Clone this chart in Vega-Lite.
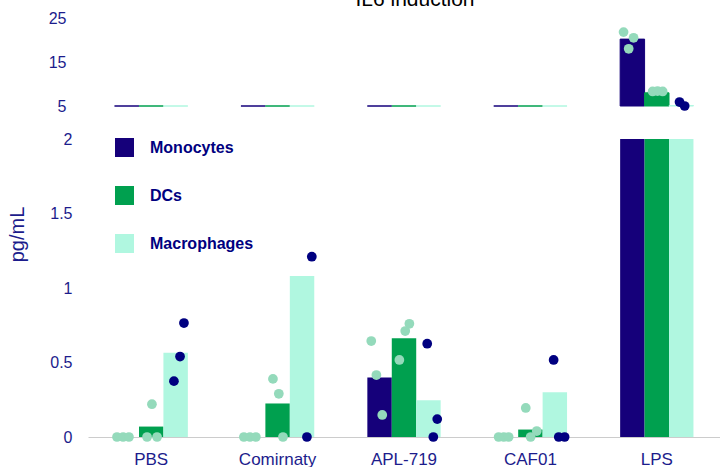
{
  "$schema": "https://vega.github.io/schema/vega-lite/v6.json",
  "autosize": {"type": "pad"},
  "padding": {"left": 7, "top": -11, "right": 0, "bottom": 0},
  "title": {
    "text": "IL6 induction",
    "fontSize": 21,
    "fontWeight": "normal",
    "font": "Liberation Sans",
    "color": "#000000",
    "anchor": "middle",
    "frame": "group",
    "dx": 11,
    "dy": 4
  },
  "config": {
    "view": {"stroke": null},
    "font": "Liberation Sans",
    "axis": {
      "labelFont": "Liberation Sans",
      "labelFontSize": 16,
      "labelColor": "#1c1c8c",
      "ticks": false,
      "grid": false,
      "title": null
    }
  },
  "datasets": {
    "bars": [
      {"group": "PBS", "cell": "Monocytes", "value": 0},
      {"group": "PBS", "cell": "DCs", "value": 0.07},
      {"group": "PBS", "cell": "Macrophages", "value": 0.565},
      {"group": "Comirnaty", "cell": "Monocytes", "value": 0},
      {"group": "Comirnaty", "cell": "DCs", "value": 0.225},
      {"group": "Comirnaty", "cell": "Macrophages", "value": 1.08},
      {"group": "APL-719", "cell": "Monocytes", "value": 0.40},
      {"group": "APL-719", "cell": "DCs", "value": 0.662},
      {"group": "APL-719", "cell": "Macrophages", "value": 0.246},
      {"group": "CAF01", "cell": "Monocytes", "value": 0},
      {"group": "CAF01", "cell": "DCs", "value": 0.05},
      {"group": "CAF01", "cell": "Macrophages", "value": 0.30},
      {"group": "LPS", "cell": "Monocytes", "value": 20.2},
      {"group": "LPS", "cell": "DCs", "value": 8.0},
      {"group": "LPS", "cell": "Macrophages", "value": 5.1}
    ],
    "points": [
      {"group": "PBS", "cell": "Monocytes", "slot": 0.10, "value": 0},
      {"group": "PBS", "cell": "Monocytes", "slot": 0.35, "value": 0},
      {"group": "PBS", "cell": "Monocytes", "slot": 0.59, "value": 0},
      {"group": "PBS", "cell": "DCs", "slot": 1.53, "value": 0.22},
      {"group": "PBS", "cell": "DCs", "slot": 1.33, "value": 0},
      {"group": "PBS", "cell": "DCs", "slot": 1.74, "value": 0},
      {"group": "PBS", "cell": "Macrophages", "slot": 2.84, "value": 0.765},
      {"group": "PBS", "cell": "Macrophages", "slot": 2.68, "value": 0.54},
      {"group": "PBS", "cell": "Macrophages", "slot": 2.43, "value": 0.375},
      {"group": "Comirnaty", "cell": "Monocytes", "slot": 0.12, "value": 0},
      {"group": "Comirnaty", "cell": "Monocytes", "slot": 0.37, "value": 0},
      {"group": "Comirnaty", "cell": "Monocytes", "slot": 0.61, "value": 0},
      {"group": "Comirnaty", "cell": "DCs", "slot": 1.31, "value": 0.39},
      {"group": "Comirnaty", "cell": "DCs", "slot": 1.55, "value": 0.29},
      {"group": "Comirnaty", "cell": "DCs", "slot": 1.72, "value": 0},
      {"group": "Comirnaty", "cell": "Macrophages", "slot": 2.70, "value": 0},
      {"group": "Comirnaty", "cell": "Macrophages", "slot": 2.90, "value": 1.21},
      {"group": "Comirnaty", "cell": "Macrophages", "slot": 2.50, "value": 2.03},
      {"group": "APL-719", "cell": "Monocytes", "slot": 0.16, "value": 0.644},
      {"group": "APL-719", "cell": "Monocytes", "slot": 0.37, "value": 0.416},
      {"group": "APL-719", "cell": "Monocytes", "slot": 0.61, "value": 0.148},
      {"group": "APL-719", "cell": "DCs", "slot": 1.72, "value": 0.76},
      {"group": "APL-719", "cell": "DCs", "slot": 1.55, "value": 0.711},
      {"group": "APL-719", "cell": "DCs", "slot": 1.31, "value": 0.517},
      {"group": "APL-719", "cell": "Macrophages", "slot": 2.45, "value": 0.626},
      {"group": "APL-719", "cell": "Macrophages", "slot": 2.86, "value": 0.12},
      {"group": "APL-719", "cell": "Macrophages", "slot": 2.70, "value": 0},
      {"group": "CAF01", "cell": "Monocytes", "slot": 0.20, "value": 0},
      {"group": "CAF01", "cell": "Monocytes", "slot": 0.41, "value": 0},
      {"group": "CAF01", "cell": "Monocytes", "slot": 0.61, "value": 0},
      {"group": "CAF01", "cell": "DCs", "slot": 1.31, "value": 0.195},
      {"group": "CAF01", "cell": "DCs", "slot": 1.76, "value": 0.04},
      {"group": "CAF01", "cell": "DCs", "slot": 1.51, "value": 0},
      {"group": "CAF01", "cell": "Macrophages", "slot": 2.45, "value": 0.517},
      {"group": "CAF01", "cell": "Macrophages", "slot": 2.66, "value": 0},
      {"group": "CAF01", "cell": "Macrophages", "slot": 2.90, "value": 0},
      {"group": "LPS", "cell": "Monocytes", "slot": 0.14, "value": 21.8},
      {"group": "LPS", "cell": "Monocytes", "slot": 0.55, "value": 20.5},
      {"group": "LPS", "cell": "Monocytes", "slot": 0.35, "value": 18.0},
      {"group": "LPS", "cell": "DCs", "slot": 1.33, "value": 8.3},
      {"group": "LPS", "cell": "DCs", "slot": 1.53, "value": 8.4},
      {"group": "LPS", "cell": "DCs", "slot": 1.74, "value": 8.3},
      {"group": "LPS", "cell": "Macrophages", "slot": 2.43, "value": 5.9},
      {"group": "LPS", "cell": "Macrophages", "slot": 2.64, "value": 5.0},
      {"group": "LPS", "cell": "Macrophages", "slot": 2.85, "value": 4.4}
    ]
  },
  "bounds": "flush",
  "spacing": 33,
  "resolve": {"legend": {"color": "independent"}, "scale": {"y": "independent"}},
  "vconcat": [
    {
      "width": 632,
      "height": 88,
      "resolve": {"scale": {"xOffset": "independent"}},
      "layer": [
        {
          "data": {"name": "bars"},
          "mark": {"type": "bar", "strokeWidth": 1},
          "encoding": {
            "x": {"field": "group", "type": "nominal", "sort": ["PBS", "Comirnaty", "APL-719", "CAF01", "LPS"],
                  "scale": {"paddingInner": 0.42, "paddingOuter": 0.21}, "axis": null},
            "xOffset": {"field": "cell", "type": "nominal", "sort": ["Monocytes", "DCs", "Macrophages"], "scale": {"paddingInner": 0, "paddingOuter": 0}},
            "y": {"field": "value", "type": "quantitative",
                  "scale": {"domain": [5, 25], "clamp": true, "nice": false, "zero": false},
                  "axis": {"values": [5, 15, 25], "domain": false, "labelPadding": 22}},
            "color": {"field": "cell", "type": "nominal", "sort": ["Monocytes", "DCs", "Macrophages"],
                      "scale": {"domain": ["Monocytes", "DCs", "Macrophages"], "range": ["#15007a", "#00a04f", "#b0f7e0"]},
                      "legend": null},
            "stroke": {"field": "cell", "type": "nominal",
                       "scale": {"domain": ["Monocytes", "DCs", "Macrophages"], "range": ["#15007a", "#00a04f", "#b0f7e0"]},
                       "legend": null}
          }
        },
        {
          "data": {"name": "points"},
          "transform": [{"filter": "datum.value >= 4.8"}],
          "mark": {"type": "circle", "size": 95, "opacity": 1},
          "encoding": {
            "x": {"field": "group", "type": "nominal", "sort": ["PBS", "Comirnaty", "APL-719", "CAF01", "LPS"]},
            "xOffset": {"field": "slot", "type": "quantitative", "scale": {"domain": [0, 3], "nice": false, "zero": false}},
            "y": {"field": "value", "type": "quantitative"},
            "color": {"condition": {"test": "datum.cell === 'Macrophages'", "value": "#000080"}, "value": "#94dabb"}
          }
        }
      ]
    },
    {
      "width": 632,
      "height": 298,
      "resolve": {"scale": {"xOffset": "independent"}},
      "layer": [
        {
          "data": {"name": "bars"},
          "mark": {"type": "bar"},
          "encoding": {
            "x": {"field": "group", "type": "nominal", "sort": ["PBS", "Comirnaty", "APL-719", "CAF01", "LPS"],
                  "scale": {"paddingInner": 0.42, "paddingOuter": 0.21},
                  "axis": {"labelAngle": 0, "labelPadding": 14, "labelFontSize": 17, "domainColor": "#cccccc", "domainWidth": 1}},
            "xOffset": {"field": "cell", "type": "nominal", "sort": ["Monocytes", "DCs", "Macrophages"], "scale": {"paddingInner": 0, "paddingOuter": 0}},
            "y": {"field": "value", "type": "quantitative",
                  "scale": {"domain": [0, 2], "clamp": true, "nice": false},
                  "axis": {"values": [0, 0.5, 1, 1.5, 2], "format": "~g", "domain": false, "labelPadding": 16,
                           "title": "pg/mL", "titleFont": "Liberation Sans", "titleFontSize": 20, "titleFontWeight": "normal",
                           "titleColor": "#1c1c8c", "titleX": -71, "titleY": 95, "titleAngle": -90, "titleBaseline": "middle", "titleAlign": "center"}},
            "color": {"field": "cell", "type": "nominal", "sort": ["Monocytes", "DCs", "Macrophages"],
                      "scale": {"domain": ["Monocytes", "DCs", "Macrophages"], "range": ["#15007a", "#00a04f", "#b0f7e0"]},
                      "legend": {"title": null, "orient": "none", "legendX": 27, "legendY": -1,
                                 "symbolType": "square", "symbolSize": 361, "symbolStrokeWidth": 0, "symbolOpacity": 1,
                                 "labelFont": "Liberation Sans", "labelFontSize": 16, "labelFontWeight": "bold",
                                 "labelColor": "#000080", "labelOffset": 16, "rowPadding": 29}}
          }
        },
        {
          "data": {"name": "points"},
          "transform": [{"filter": "datum.value <= 2"}],
          "mark": {"type": "circle", "size": 95, "opacity": 1},
          "encoding": {
            "x": {"field": "group", "type": "nominal", "sort": ["PBS", "Comirnaty", "APL-719", "CAF01", "LPS"]},
            "xOffset": {"field": "slot", "type": "quantitative", "scale": {"domain": [0, 3], "nice": false, "zero": false}},
            "y": {"field": "value", "type": "quantitative"},
            "color": {"condition": {"test": "datum.cell === 'Macrophages'", "value": "#000080"}, "value": "#94dabb"}
          }
        }
      ]
    }
  ]
}
